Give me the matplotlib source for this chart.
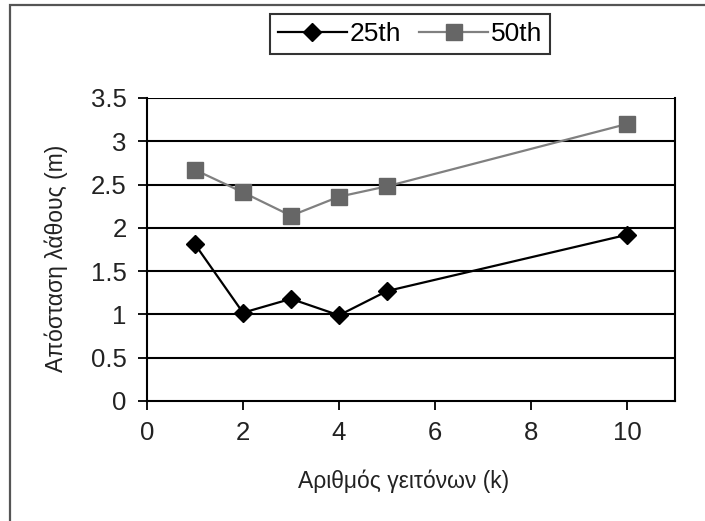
import matplotlib
matplotlib.use("Agg")
import matplotlib.pyplot as plt
from matplotlib.patches import Rectangle

# values
k_values = [1, 2, 3, 4, 5, 10]
p25 = [1.81, 1.02, 1.18, 0.99, 1.27, 1.92]
p50 = [2.67, 2.41, 2.14, 2.36, 2.48, 3.20]

x_ticks = [0, 2, 4, 6, 8, 10]
y_ticks = [0, 0.5, 1, 1.5, 2, 2.5, 3, 3.5]
y_tick_labels = ["0", "0.5", "1", "1.5", "2", "2.5", "3", "3.5"]

plt.rcParams["font.family"] = ["Liberation Sans", "DejaVu Sans"]

fig = plt.figure(figsize=(7.05, 5.21), dpi=100)
ax = fig.add_axes([147 / 705, 120 / 521, 528 / 705, 303 / 521])

# outer chart-area border (only top and left edges are inside the picture)
fig.add_artist(Rectangle((10 / 705, -0.2), 1.2, 1.2 - 5 / 521,
                         transform=fig.transFigure, fill=False,
                         edgecolor="#555555", linewidth=1.6, clip_on=False))

for y in y_ticks[1:]:
    ax.axhline(y, color="black", linewidth=1.5, zorder=1)

ax.plot(k_values, p25, color="black", linewidth=1.6, marker="D",
        markersize=9, markerfacecolor="black", markeredgecolor="black",
        label="25th", zorder=3)
ax.plot(k_values, p50, color="#808080", linewidth=1.6, marker="s",
        markersize=12, markerfacecolor="#666666", markeredgecolor="#666666",
        label="50th", zorder=3)

ax.set_xlim(0, 11)
ax.set_ylim(0, 3.5)
ax.set_xticks(x_ticks)
ax.set_yticks(y_ticks)
ax.set_yticklabels(y_tick_labels)
ax.tick_params(direction="out", length=6.5, width=1.3,
               labelsize=18.5, colors="black", labelcolor="#222222")
ax.tick_params(axis="y", pad=8)
ax.tick_params(axis="x", pad=8)

for side in ["left", "bottom", "right"]:
    ax.spines[side].set_color("black")
    ax.spines[side].set_linewidth(1.5)
ax.spines["top"].set_visible(False)

ax.set_xlabel("Αριθμός γειτόνων (k)", fontsize=16.5, color="#222222")
ax.set_ylabel("Απόσταση λάθους (m)", fontsize=16.5, color="#222222")
ax.xaxis.set_label_coords(0.485, -0.225)
ax.yaxis.set_label_coords(-0.15, 0.47)

leg = ax.legend(loc="center", bbox_to_anchor=(410 / 705, 1 - 34 / 521),
                bbox_transform=fig.transFigure, ncol=2, fontsize=19,
                frameon=True, fancybox=False, edgecolor="black",
                handlelength=2.6, handletextpad=0.1, columnspacing=0.7,
                borderpad=0.3, borderaxespad=0)
leg.get_frame().set_linewidth(1.5)

fig.savefig("out.png", dpi=100)
